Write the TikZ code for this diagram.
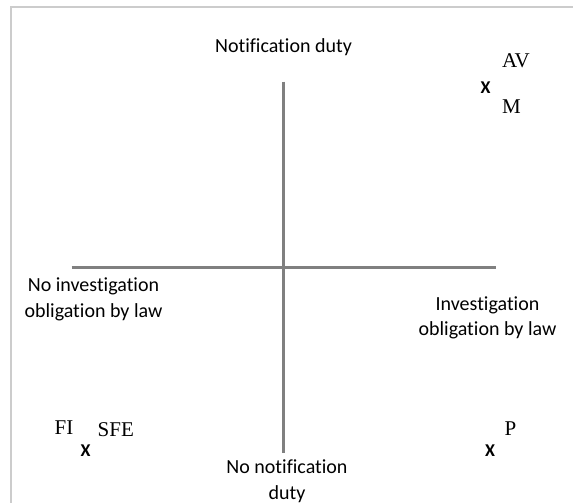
\documentclass[tikz,border=0pt]{standalone}
\usepackage{fontspec}
\setmainfont[Ligatures=NoCommon]{Carlito}
\newfontfamily\serifletters{Liberation Serif}
\begin{document}
\begin{tikzpicture}[x=1pt,y=-1pt,
  frame/.style={draw=black!20,line width=2pt},
  axis/.style={draw=black!50,line width=2.7pt},
  axislabel/.style={align=center,inner sep=0pt,font=\fontsize{20}{25.5}\selectfont},
  xmark/.style={inner sep=0pt,anchor=base west,font=\bfseries\fontsize{18}{18}\selectfont},
  code/.style={inner sep=0pt,anchor=base west,font=\serifletters\fontsize{21}{21}\selectfont}]
  % canvas
  \useasboundingbox (0,0) rectangle (573,503);
  % outer frame (top and left edges)
  \draw[frame] (573,7) -- (11,7) -- (11,503);

  % axis end points
  \coordinate (top) at (283.5,81.7);
  \coordinate (bottom) at (283.5,452.7);
  \coordinate (left) at (71.7,267.3);
  \coordinate (right) at (496,267.3);
  \draw[axis] (left) -- (right);
  \draw[axis] (top) -- (bottom);

  % axis labels
  \node[axislabel] (north) at (283.5,47) {Notification duty};
  \node[axislabel] (south) at (287,481) {No notification\\duty};
  \node[axislabel] (west) at (93.5,299.5) {No investigation\\obligation by law};
  \node[axislabel] (east) at (487.5,317.7) {Investigation\\obligation by law};

  % upper right: AV, M
  \node[xmark] (x1) at (480.5,93.3) {X};
  \node[code] (av) at (502,68) {AV};
  \node[code] (m) at (502,113.3) {M};

  % lower left: FI, SFE
  \node[xmark] (x2) at (80.3,456.7) {X};
  \node[code] (fi) at (54.5,434) {FI};
  \node[code] (sfe) at (97.5,436.5) {SFE};

  % lower right: P
  \node[xmark] (x3) at (485,456.7) {X};
  \node[code] (p) at (504.5,435) {P};
\end{tikzpicture}
\end{document}
